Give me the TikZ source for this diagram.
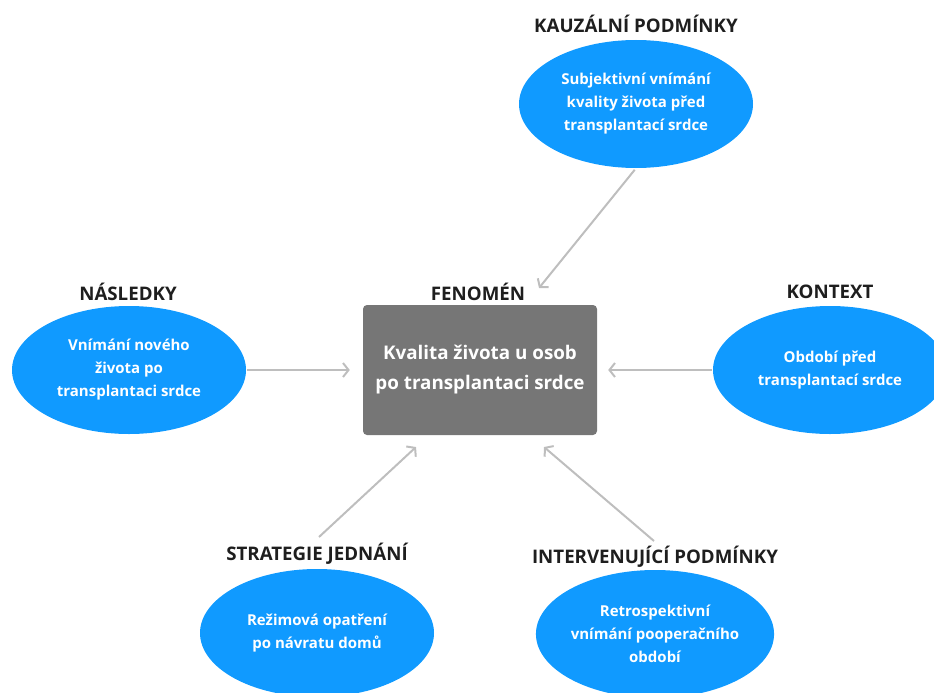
\documentclass[tikz,border=0pt]{standalone}
\usepackage{fontspec}
\setmainfont{Open Sans}
\usetikzlibrary{arrows.meta,shapes.geometric}
\definecolor{blueell}{RGB}{16,154,255}
\definecolor{grayrect}{RGB}{118,118,118}
\definecolor{arrowgray}{RGB}{190,190,190}
\definecolor{labeltext}{RGB}{30,30,30}
\begin{document}
\begin{tikzpicture}[x=1pt,y=-1pt,
  ell/.style={ellipse,fill=blueell,minimum width=234pt,minimum height=128pt,inner sep=0pt,
    text=white,font=\fontsize{15}{23}\bfseries\selectfont,align=center},
  lbl/.style={text=labeltext,font=\fontsize{18.7}{20}\bfseries\selectfont,inner sep=0pt},
  conn/.style={draw=arrowgray,line width=2pt,-{Straight Barb[length=5.5pt,width=14pt,line width=2pt]}}]
\useasboundingbox (0,0) rectangle (934,693);
\clip (0,0) rectangle (934,693);
% ellipses
\node[ell] (caus) at (636,104) {Subjektivní vnímání\\kvality života před\\transplantací srdce};
\node[ell] (cons) at (129,370) {Vnímání nového\\života po\\transplantaci srdce};
\node[ell] (ctx) at (830,370) {Období před\\transplantací srdce};
\node[ell] (strat) at (317,633) {Režimová opatření\\po návratu domů};
\node[ell] (interv) at (655,634) {Retrospektivní\\vnímání pooperačního\\období};
% center
\node[fill=grayrect,rounded corners=4pt,minimum width=234pt,minimum height=130pt,inner sep=0pt,
  text=white,font=\fontsize{18.8}{30}\bfseries\selectfont,align=center] (phen) at (480,370)
  {Kvalita života u osob\\po transplantaci srdce};
% labels
\node[lbl] (lcaus) at (636,24) {KAUZÁLNÍ PODMÍNKY};
\node[lbl] (lcons) at (128,292) {NÁSLEDKY};
\node[lbl] (lphen) at (478,292) {FENOMÉN};
\node[lbl] (lctx) at (830,292) {KONTEXT};
\node[lbl] (lstrat) at (317,554) {STRATEGIE JEDNÁNÍ};
\node[lbl] (linterv) at (655,557) {INTERVENUJÍCÍ PODMÍNKY};
% arrow ends
\coordinate (tipcaus) at (539,288);
\coordinate (tipstrat) at (416,447);
\coordinate (tipinterv) at (544,447);
\coordinate (startstrat) at (319,537);
\coordinate (startinterv) at (654,541);
% connectors
\draw[conn,shorten <=2pt] (caus.south) -- (tipcaus);
\draw[conn,shorten <=1pt,shorten >=13pt] (cons.east) -- (phen.west);
\draw[conn,shorten <=1pt,shorten >=11pt] (ctx.west) -- (phen.east);
\draw[conn] (startstrat) -- (tipstrat);
\draw[conn] (startinterv) -- (tipinterv);
\end{tikzpicture}
\end{document}
